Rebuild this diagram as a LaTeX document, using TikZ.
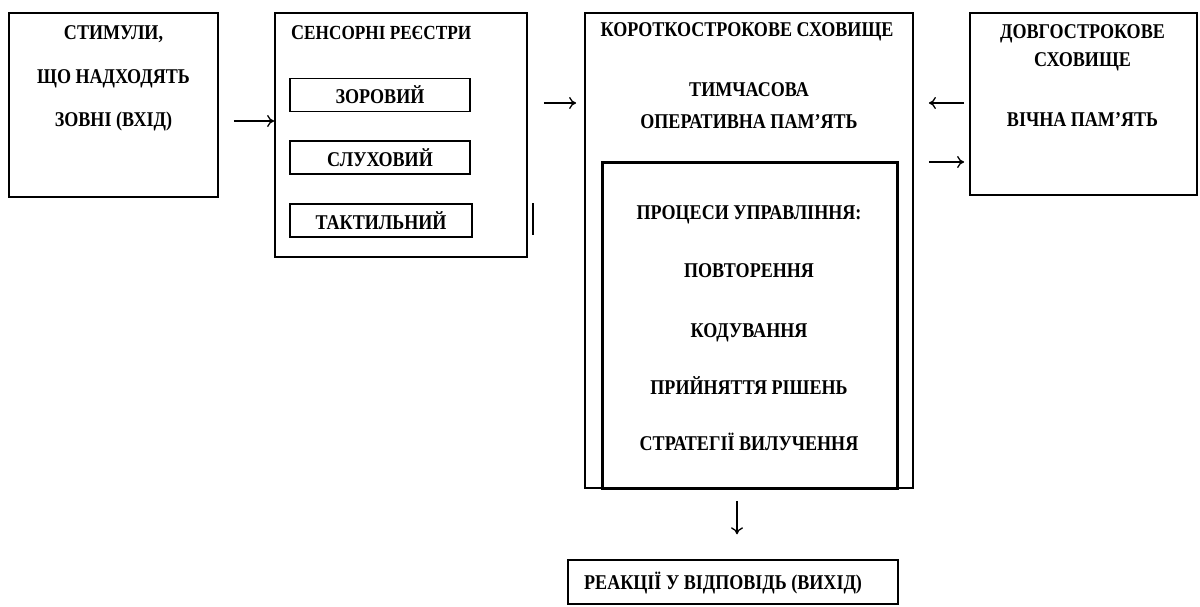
\documentclass[tikz,border=0pt]{standalone}
\usepackage{fontspec}
\setmainfont{Liberation Serif}[FakeStretch=0.86]
\usetikzlibrary{arrows.meta, positioning}

\begin{document}
\begin{tikzpicture}[
    x=1pt, y=-1pt,
    box/.style={draw, line width=1.8pt, inner sep=0pt},
    subbox/.style={draw, line width=1.4pt, inner sep=0pt, minimum width=180pt, minimum height=33pt, font=\bfseries\fontsize{21}{24}\selectfont},
    txt/.style={font=\bfseries\fontsize{21}{24}\selectfont, inner sep=0pt, anchor=base},
    arrow/.style={line width=1.3pt, -{To[length=7pt,width=12pt]}}
]
\useasboundingbox (0,0) rectangle (1200,607);

\node[box, minimum width=209pt, minimum height=184pt] (stim) at (113.5,105) {};
\node[box, minimum width=252pt, minimum height=244pt] (sens) at (401,135) {};
\node[box, minimum width=328pt, minimum height=475pt] (stm) at (749,250.5) {};
\node[box, line width=3pt, minimum width=295pt, minimum height=325pt] (ctrl) at (749.5,325.5) {};
\node[box, minimum width=227pt, minimum height=182pt] (ltm) at (1083.5,104) {};
\node[box, line width=1.4pt, minimum width=330pt, minimum height=44pt] (resp) at (733,582) {};

\node[subbox] (vis) at (380,95) {ЗОРОВИЙ};
\node[subbox] (aud) at (380,157.5) {СЛУХОВИЙ};
\node[subbox, line width=2.4pt, minimum width=182pt] (tac) at (381,220.5) {ТАКТИЛЬНИЙ};
\draw[line width=2.5pt] (533,203) -- (533,235);

\node[txt] (stim1) at (113.5,40) {СТИМУЛИ,};
\node[txt] (stim2) at (113.5,84) {ЩО НАДХОДЯТЬ};
\node[txt] (stim3) at (113.5,127) {ЗОВНІ (ВХІД)};

\node[txt, anchor=base west] (senst) at (291,40) {С{\fontsize{20}{23}\selectfont ЕНСОРНІ РЕЄСТРИ}};

\node[txt] (stmt) at (747,37) {КОРОТКОСТРОКОВЕ СХОВИЩЕ};
\node[txt] (stm1) at (749,97) {ТИМЧАСОВА};
\node[txt] (stm2) at (749,129) {ОПЕРАТИВНА ПАМ’ЯТЬ};

\node[txt] (ctrl1) at (749,219) {ПРОЦЕСИ УПРАВЛІННЯ:};
\node[txt] (ctrl2) at (749,277) {ПОВТОРЕННЯ};
\node[txt] (ctrl3) at (749,337) {КОДУВАННЯ};
\node[txt] (ctrl4) at (749,394) {ПРИЙНЯТТЯ РІШЕНЬ};
\node[txt] (ctrl5) at (749,450) {СТРАТЕГІЇ ВИЛУЧЕННЯ};

\node[txt] (ltm1) at (1082.5,39) {ДОВГОСТРОКОВЕ};
\node[txt] (ltm2) at (1082.5,67) {СХОВИЩЕ};
\node[txt] (ltm3) at (1082.5,127) {ВІЧНА ПАМ’ЯТЬ};

\node[txt, anchor=base west] (respt) at (584,589) {РЕАКЦІЇ У ВІДПОВІДЬ (ВИХІД)};

\draw[arrow, shorten <=15pt] (stim.east |- 0,121) -- (sens.west |- 0,121);
\draw[arrow, shorten <=16pt, shorten >=8pt] (sens.east |- 0,103) -- (stm.west |- 0,103);
\draw[arrow, shorten <=5pt, shorten >=15pt] (ltm.west |- 0,103) -- (stm.east |- 0,103);
\draw[arrow, shorten <=15pt, shorten >=5pt] (stm.east |- 0,162) -- (ltm.west |- 0,162);
\draw[arrow, shorten <=12pt, shorten >=25pt] (stm.south -| 737,0) -- (resp.north -| 737,0);
\end{tikzpicture}
\end{document}
